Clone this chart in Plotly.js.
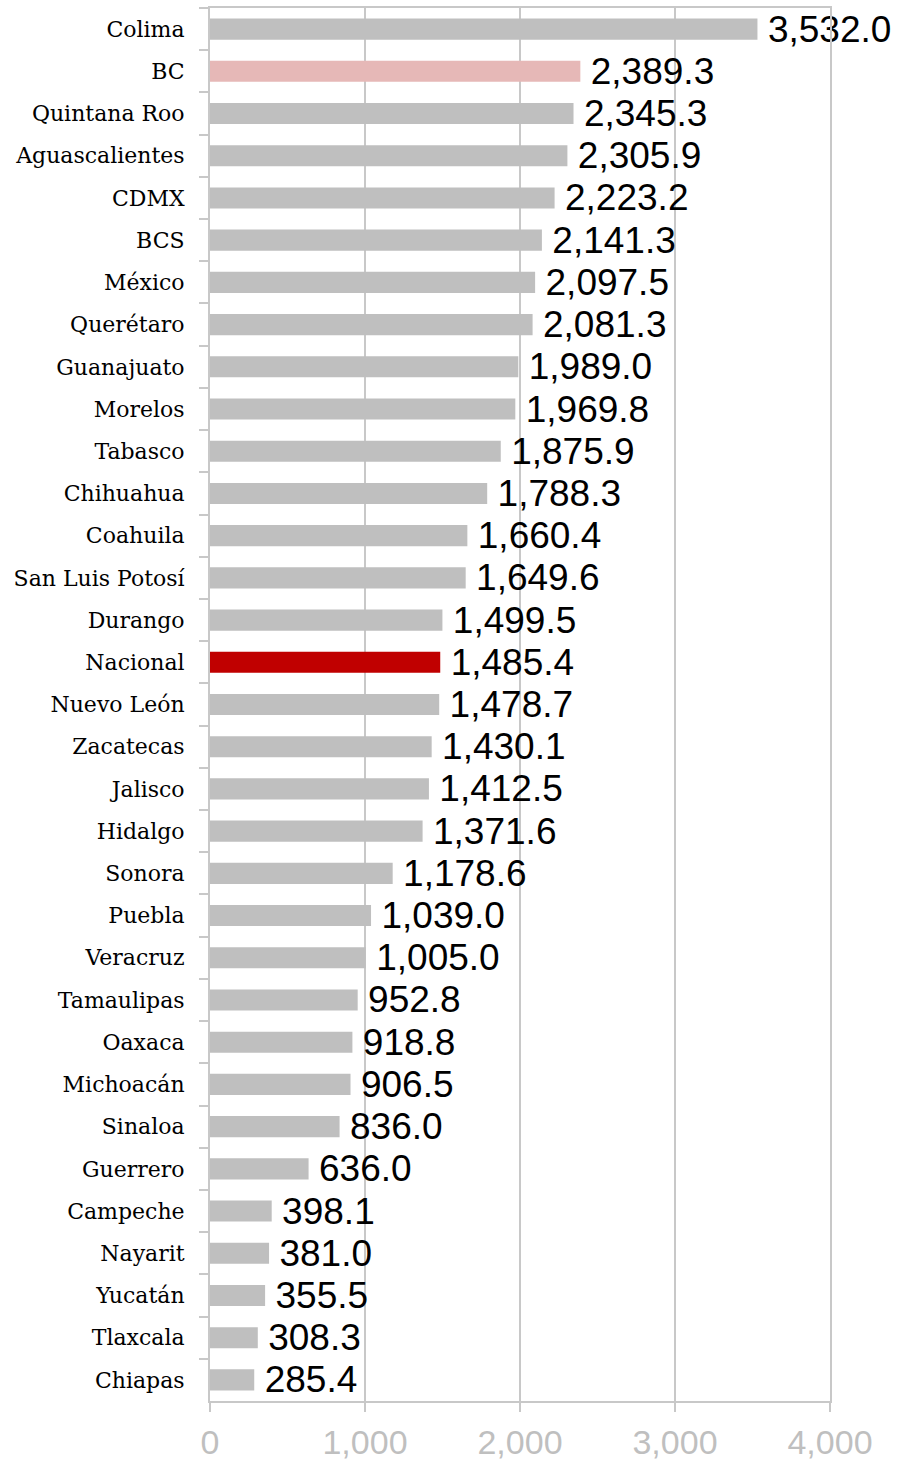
<!DOCTYPE html>
<html>
<head>
<meta charset="utf-8">
<script src="https://cdn.plot.ly/plotly-3.0.1.min.js"></script>
<style>html,body{margin:0;padding:0;background:#fff;}#chart{width:902px;height:1463px;}</style>
</head>
<body>
<div id="chart"></div>
<script>
const states = ["Colima","BC","Quintana Roo","Aguascalientes","CDMX","BCS","México","Querétaro","Guanajuato","Morelos","Tabasco","Chihuahua","Coahuila","San Luis Potosí","Durango","Nacional","Nuevo León","Zacatecas","Jalisco","Hidalgo","Sonora","Puebla","Veracruz","Tamaulipas","Oaxaca","Michoacán","Sinaloa","Guerrero","Campeche","Nayarit","Yucatán","Tlaxcala","Chiapas"];
const values = [3532.0,2389.3,2345.3,2305.9,2223.2,2141.3,2097.5,2081.3,1989.0,1969.8,1875.9,1788.3,1660.4,1649.6,1499.5,1485.4,1478.7,1430.1,1412.5,1371.6,1178.6,1039.0,1005.0,952.8,918.8,906.5,836.0,636.0,398.1,381.0,355.5,308.3,285.4];
const xTicks = [0,1000,2000,3000,4000];

const colorFor = s => s === "Nacional" ? "#C00000" : (s === "BC" ? "#E6B8B7" : "#BFBFBF");

const trace = {
  type: "bar",
  orientation: "h",
  y: states,
  x: values,
  width: 0.5,
  marker: {color: states.map(colorFor)},
  text: values.map(v => "\u2009" + v.toLocaleString("en-US",{minimumFractionDigits:1, maximumFractionDigits:1})),
  textposition: "outside",
  constraintext: "none",
  cliponaxis: false,
  textfont: {family: "Liberation Sans, Arial, sans-serif", size: 37, color: "#000"},
  hoverinfo: "none"
};

const layout = {
  width: 902, height: 1463,
  margin: {l: 210, r: 72, t: 8, b: 62},
  paper_bgcolor: "#fff", plot_bgcolor: "#fff",
  showlegend: false,
  bargap: 0.5,
  xaxis: {
    range: [0, 4000],
    tickvals: xTicks,
    tickformat: ",d",
    showgrid: true, gridcolor: "#C8C8C8", gridwidth: 2,
    zeroline: false,
    showline: true, linecolor: "#C8C8C8", linewidth: 2, mirror: true,
    ticks: "outside", ticklen: 9, tickwidth: 2, tickcolor: "#C8C8C8",
    ticklabelstandoff: 1,
    tickfont: {family: "Liberation Sans, Arial, sans-serif", size: 34, color: "#BFBFBF"},
    fixedrange: true
  },
  yaxis: {
    type: "category",
    categoryorder: "array", categoryarray: states,
    autorange: "reversed",
    showgrid: false, zeroline: false,
    showline: true, linecolor: "#C8C8C8", linewidth: 2, mirror: true,
    ticks: "outside", tickson: "boundaries", ticklen: 9, tickwidth: 2, tickcolor: "#C8C8C8",
    ticklabelstandoff: 19,
    tickfont: {family: "DejaVu Serif, serif", size: 22, color: "#000"},
    fixedrange: true
  }
};

Plotly.newPlot("chart", [trace], layout, {displayModeBar: false, staticPlot: true});
</script>
</body>
</html>
